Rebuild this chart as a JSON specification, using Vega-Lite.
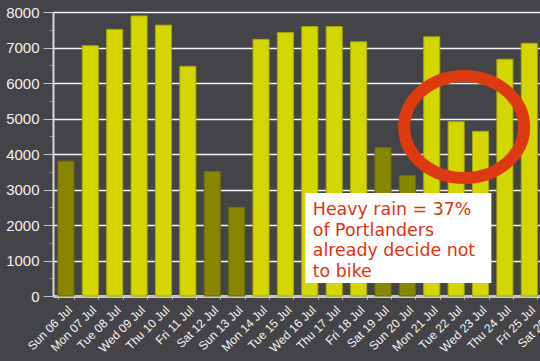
{
  "$schema": "https://vega.github.io/schema/vega-lite/v6.json",
  "autosize": {"type": "none"},
  "padding": {"left": 53, "top": 12, "right": 0, "bottom": 65},
  "width": 538,
  "height": 284,
  "background": "#444347",
  "config": {
    "view": {"stroke": null},
    "font": "Liberation Sans"
  },
  "datasets": {
    "riders": [
      {"day": "Sun 06 Jul", "count": 3800, "kind": "weekend"},
      {"day": "Mon 07 Jul", "count": 7050, "kind": "weekday"},
      {"day": "Tue 08 Jul", "count": 7510, "kind": "weekday"},
      {"day": "Wed 09 Jul", "count": 7890, "kind": "weekday"},
      {"day": "Thu 10 Jul", "count": 7630, "kind": "weekday"},
      {"day": "Fri 11 Jul", "count": 6470, "kind": "weekday"},
      {"day": "Sat 12 Jul", "count": 3510, "kind": "weekend"},
      {"day": "Sun 13 Jul", "count": 2500, "kind": "weekend"},
      {"day": "Mon 14 Jul", "count": 7230, "kind": "weekday"},
      {"day": "Tue 15 Jul", "count": 7420, "kind": "weekday"},
      {"day": "Wed 16 Jul", "count": 7590, "kind": "weekday"},
      {"day": "Thu 17 Jul", "count": 7590, "kind": "weekday"},
      {"day": "Fri 18 Jul", "count": 7160, "kind": "weekday"},
      {"day": "Sat 19 Jul", "count": 4180, "kind": "weekend"},
      {"day": "Sun 20 Jul", "count": 3390, "kind": "weekend"},
      {"day": "Mon 21 Jul", "count": 7300, "kind": "weekday"},
      {"day": "Tue 22 Jul", "count": 4910, "kind": "weekday"},
      {"day": "Wed 23 Jul", "count": 4640, "kind": "weekday"},
      {"day": "Thu 24 Jul", "count": 6670, "kind": "weekday"},
      {"day": "Fri 25 Jul", "count": 7120, "kind": "weekday"}
    ],
    "note": [
      {"day": "Wed 16 Jul", "count": 2280, "label": ["Heavy rain = 37%", "of Portlanders", "already decide not", "to bike"]}
    ],
    "box": [
      {"day": "Sun 20 Jul", "count": 1634}
    ],
    "ring": [
      {"day": "Tue 22 Jul", "count": 4760}
    ]
  },
  "encoding": {
    "x": {
      "field": "day",
      "type": "nominal",
      "sort": null,
      "scale": {
        "domain": ["Sun 06 Jul", "Mon 07 Jul", "Tue 08 Jul", "Wed 09 Jul", "Thu 10 Jul", "Fri 11 Jul", "Sat 12 Jul", "Sun 13 Jul", "Mon 14 Jul", "Tue 15 Jul", "Wed 16 Jul", "Thu 17 Jul", "Fri 18 Jul", "Sat 19 Jul", "Sun 20 Jul", "Mon 21 Jul", "Tue 22 Jul", "Wed 23 Jul", "Thu 24 Jul", "Fri 25 Jul", "Sat 26 Jul", "Sun 27 Jul"],
        "paddingInner": 0.34,
        "paddingOuter": 0.2
      },
      "axis": {
        "title": null,
        "labelAngle": -45,
        "labelColor": "#f4f4f4",
        "labelFontSize": 12,
        "labelPadding": 5,
        "domainColor": "#c8c8c8",
        "domainWidth": 3,
        "tickColor": "#c8c8c8",
        "tickSize": 3,
        "tickBand": "extent",
        "grid": false
      }
    },
    "y": {
      "field": "count",
      "type": "quantitative",
      "scale": {"domain": [0, 8000], "nice": false},
      "axis": {
        "title": null,
        "values": [0, 500, 1000, 1500, 2000, 2500, 3000, 3500, 4000, 4500, 5000, 5500, 6000, 6500, 7000, 7500, 8000],
        "labelExpr": "datum.value % 1000 === 0 ? datum.value : ''",
        "labelColor": "#f0f0f0",
        "labelFontSize": 15,
        "labelPadding": 4,
        "domainColor": "#d8d8d8",
        "domainWidth": 2,
        "tickColor": {"condition": {"test": "datum.value % 1000 === 0", "value": "#b8c4cc"}, "value": "#8a8a8a"},
        "tickSize": {"condition": {"test": "datum.value % 1000 === 0", "value": 10}, "value": 4},
        "gridColor": "#ffffff",
        "gridWidth": 1.5,
        "gridOpacity": {"condition": {"test": "datum.value % 1000 === 0 && datum.value > 0", "value": 0.95}, "value": 0}
      }
    }
  },
  "layer": [
    {
      "data": {"name": "riders"},
      "mark": {"type": "bar", "strokeWidth": 1},
      "encoding": {
        "color": {
          "field": "kind",
          "type": "nominal",
          "scale": {"domain": ["weekday", "weekend"], "range": ["#d4d600", "#878600"]},
          "legend": null
        },
        "stroke": {
          "field": "kind",
          "type": "nominal",
          "scale": {"domain": ["weekday", "weekend"], "range": ["#a6a800", "#6e6d00"]},
          "legend": null
        }
      }
    },
    {
      "data": {"name": "box"},
      "mark": {"type": "point", "shape": "M -1 -0.484 L 1 -0.484 L 1 0.484 L -1 0.484 Z", "size": 34596, "filled": true, "fill": "#ffffff", "opacity": 1, "strokeWidth": 0, "xOffset": -9}
    },
    {
      "data": {"name": "note"},
      "mark": {"type": "text", "align": "left", "baseline": "alphabetic", "font": "DejaVu Sans", "fontSize": 17.4, "lineHeight": 20.6, "color": "#dd3311", "xOffset": 3},
      "encoding": {"text": {"field": "label"}}
    },
    {
      "data": {"name": "ring"},
      "mark": {"type": "point", "shape": "M -1 0 A 1 0.85 0 1 0 1 0 A 1 0.85 0 1 0 -1 0 Z", "size": 14400, "filled": false, "stroke": "#dd3a12", "strokeWidth": 12, "opacity": 1, "xOffset": 8}
    }
  ]
}
